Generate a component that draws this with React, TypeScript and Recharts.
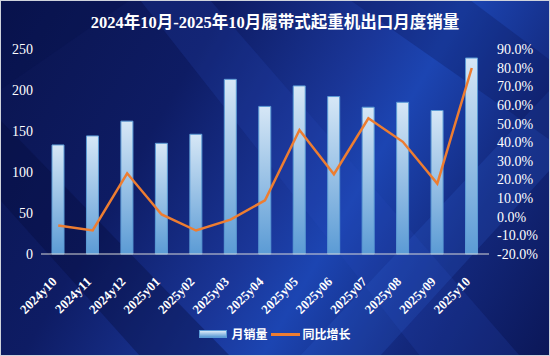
import React from "react";
import {
  ComposedChart,
  Bar,
  Line,
  XAxis,
  YAxis,
  Legend,
} from "recharts";

const months = [
  "2024y10", "2024y11", "2024y12", "2025y01", "2025y02", "2025y03", "2025y04",
  "2025y05", "2025y06", "2025y07", "2025y08", "2025y09", "2025y10",
];
const monthlySales = [133, 144, 162, 135, 146, 213, 180, 205, 192, 179, 185, 175, 239];
const yoyGrowth = [-4.7, -7.4, 23.3, 1.2, -7.4, -1.6, 8.8, 46.5, 22.8, 52.8, 40.2, 17.8, 79.8];
const leftTicks = [0, 50, 100, 150, 200, 250];
const rightTicks = [-20, -10, 0, 10, 20, 30, 40, 50, 60, 70, 80, 90];

const data = months.map((m, i) => ({
  month: m,
  sales: monthlySales[i],
  growth: yoyGrowth[i],
}));

const FONT = '"Liberation Serif", "Noto Sans CJK SC", serif';

const XTick = (props: any) => {
  const { x, y, payload } = props;
  return (
    <text
      x={x}
      y={y}
      dx={-15}
      dy={14}
      transform={`rotate(-45, ${x}, ${y})`}
      textAnchor="end"
      fill="#ffffff"
      fontSize={13}
      fontWeight="bold"
      fontFamily={FONT}
    >
      {payload.value}
    </text>
  );
};

const LegendBox = () => (
  <div
    style={{
      display: "flex",
      justifyContent: "center",
      alignItems: "center",
      height: 16,
      fontFamily: FONT,
      fontSize: 12,
      fontWeight: "bold",
      color: "#ffffff",
    }}
  >
    <span
      style={{
        display: "inline-block",
        width: 26,
        height: 6,
        background: "linear-gradient(#dceaf7, #5b9bd5)",
        border: "1px solid #5b9bd5",
        marginRight: 4,
      }}
    />
    <span style={{ marginRight: 3 }}>月销量</span>
    <span
      style={{
        display: "inline-block",
        width: 29,
        height: 3,
        background: "#ed7d31",
        marginRight: 3,
      }}
    />
    <span>同比增长</span>
  </div>
);

export default function App() {
  return (
    <div
      style={{
        position: "absolute",
        left: 0,
        top: 0,
        width: 550,
        height: 356,
        overflow: "hidden",
        boxSizing: "border-box",
        border: "1px solid #cfd3dc",
        background:
          "linear-gradient(120deg, #0a144e 0%, #0e1c64 30%, #1a3698 52%, #1c45b2 62%, #13287c 80%, #0b1758 100%)",
      }}
    >
      {/* background streaks */}
      <svg
        width={550}
        height={356}
        style={{ position: "absolute", left: -1, top: -1 }}
      >
        <polygon points="140,0 210,0 520,356 420,356" fill="#2a4cc0" opacity={0.2} />
        <polygon points="0,120 0,200 140,356 230,356" fill="#050c3a" opacity={0.35} />
        <polygon points="300,356 380,356 550,170 550,90" fill="#2d5fd0" opacity={0.22} />
        <polygon points="350,0 470,0 550,60 550,140" fill="#07104a" opacity={0.25} />
        <polygon points="0,0 130,0 0,90" fill="#07104a" opacity={0.3} />
      </svg>
      <div
        style={{
          position: "absolute",
          left: 0,
          top: 12,
          width: 548,
          textAlign: "center",
          fontFamily: FONT,
          fontSize: 16.5,
          fontWeight: "bold",
          color: "#ffffff",
          lineHeight: "20px",
        }}
      >
        2024年10月-2025年10月履带式起重机出口月度销量
      </div>
      <div style={{ position: "absolute", left: -1, top: -1 }}>
        <ComposedChart
          width={550}
          height={356}
          data={data}
          margin={{ top: 49, right: 0, bottom: 14, left: 0 }}
        >
          <defs>
            <linearGradient id="barFill" x1="0" y1="0" x2="0" y2="1">
              <stop offset="0%" stopColor="#d6e7f6" />
              <stop offset="100%" stopColor="#5b9bd5" />
            </linearGradient>
          </defs>
          <XAxis
            dataKey="month"
            height={72}
            interval={0}
            tick={<XTick />}
            tickLine={false}
            axisLine={{ stroke: "#d9d9d9", strokeWidth: 1 }}
          />
          <YAxis
            yAxisId="left"
            width={41}
            domain={[0, 250]}
            ticks={leftTicks}
            interval={0}
            axisLine={false}
            tickLine={false}
            tick={{ fill: "#ffffff", fontSize: 14, fontFamily: FONT }}
          />
          <YAxis
            yAxisId="right"
            orientation="right"
            width={61}
            domain={[-20, 90]}
            ticks={rightTicks}
            interval={0}
            axisLine={false}
            tickLine={false}
            tickFormatter={(v: number) => `${v.toFixed(1)}%`}
            tick={{ fill: "#ffffff", fontSize: 14, fontFamily: FONT, textAnchor: "start" }}
          />
          <Legend verticalAlign="bottom" height={16} content={<LegendBox />} />
          <Bar
            yAxisId="left"
            dataKey="sales"
            name="月销量"
            barSize={12}
            fill="url(#barFill)"
            stroke="#5b9bd5"
            strokeWidth={1}
            isAnimationActive={false}
          />
          <Line
            yAxisId="right"
            dataKey="growth"
            name="同比增长"
            type="linear"
            stroke="#ed7d31"
            strokeWidth={2.5}
            dot={false}
            isAnimationActive={false}
          />
        </ComposedChart>
      </div>
    </div>
  );
}
